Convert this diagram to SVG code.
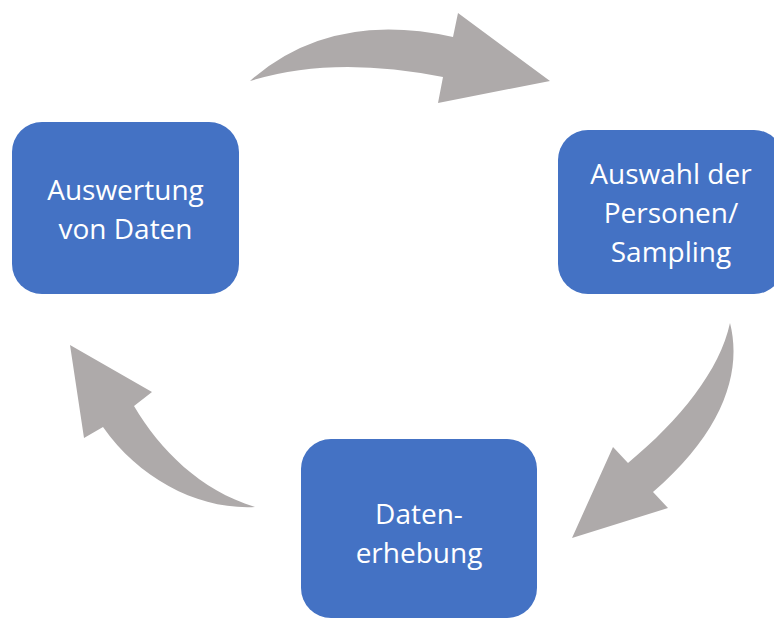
<svg xmlns="http://www.w3.org/2000/svg" width="774" height="620" viewBox="0 0 774 620">
<style>
.box{fill:#4472C4;}
.arrow{fill:#AEAAAA;}
.lbl{fill:#FFFFFF;font-family:"Open Sans","Noto Sans","Liberation Sans",sans-serif;font-size:28px;text-anchor:middle;}
</style>
<rect width="774" height="620" fill="#FFFFFF"/>
<g id="connectors">
<path class="arrow" d="M250,81 Q330,10 453,37 L458,13 L550,81 L438,103 L443,77 Q333,55 250,81 Z"/>
<path class="arrow" d="M730,323 C742,370 725,430 653,492 L668,508 L572,538 L613,447 L628,463 C680,420 720,370 730,323 Z"/>
<path class="arrow" d="M70,345 L152,392 L134,406 C160,450 200,490 255,507 C200,510 140,480 103,427 L84,438 Z"/>
</g>
<g id="node-auswertung">
<rect class="box" x="12" y="122" width="227" height="172" rx="30" ry="30"/>
<text class="lbl" x="125.5" y="200">Auswertung</text>
<text class="lbl" x="125.5" y="239">von Daten</text>
</g>
<g id="node-auswahl">
<rect class="box" x="558" y="130" width="226" height="164" rx="30" ry="30"/>
<text class="lbl" x="671" y="184">Auswahl der</text>
<text class="lbl" x="671" y="223">Personen/</text>
<text class="lbl" x="671" y="262">Sampling</text>
</g>
<g id="node-datenerhebung">
<rect class="box" x="301" y="439" width="236" height="179" rx="30" ry="30"/>
<text class="lbl" x="419" y="524">Daten-</text>
<text class="lbl" x="419" y="563">erhebung</text>
</g>
</svg>
